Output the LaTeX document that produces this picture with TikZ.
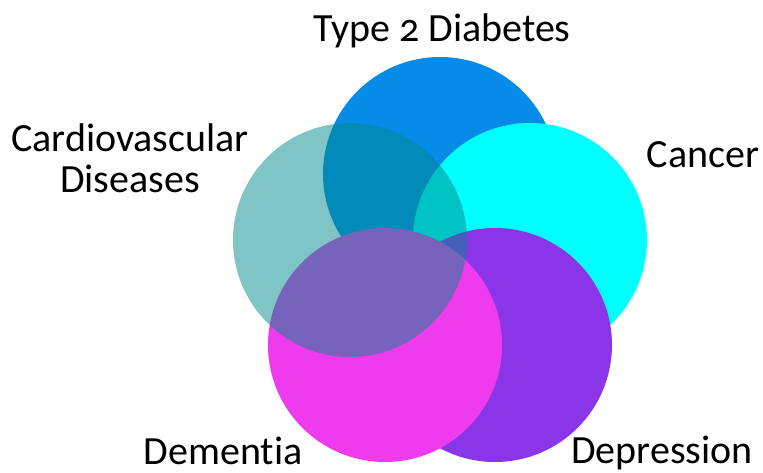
\documentclass[tikz,border=0pt]{standalone}
\usepackage{fontspec}
\setmainfont{Carlito}[Numbers=OldStyle, Ligatures=NoCommon]
\usetikzlibrary{positioning}

\begin{document}
\begin{tikzpicture}[x=1pt, y=-1pt,
                disease/.style={circle, inner sep=0pt, minimum size=234pt},
                label text/.style={anchor=base, align=center, text=black,
                        font=\fontsize{40}{41}\selectfont}]

                \useasboundingbox (0,0) rectangle (763,473);

                % Overlapping disease circles
                \node[disease, fill={rgb,255:red,6;green,139;blue,233}] (diabetes) at (440,174) {};
                \node[disease, fill={rgb,255:red,0;green,255;blue,255}] (cancer) at (530,240) {};
                \node[disease, fill={rgb,255:red,138;green,53;blue,232}] (depression) at (495,345) {};
                \node[disease, fill={rgb,255:red,238;green,59;blue,238}] (dementia) at (385,345) {};
                \node[disease, fill={rgb,255:red,0;green,139;blue,139}, fill opacity=0.5] (cardio) at (350,240) {};

                % Labels
                \node[label text] (diabetes label) at (442,42) {Type 2 Diabetes};
                \node[label text] (cardio label) at (130,193) {Cardiovascular\\Diseases};
                \node[label text] (cancer label) at (703,168) {Cancer};
                \node[label text] (dementia label) at (223,464) {Dementia};
                \node[label text] (depression label) at (662,463) {Depression};
            \end{tikzpicture}
\end{document}
